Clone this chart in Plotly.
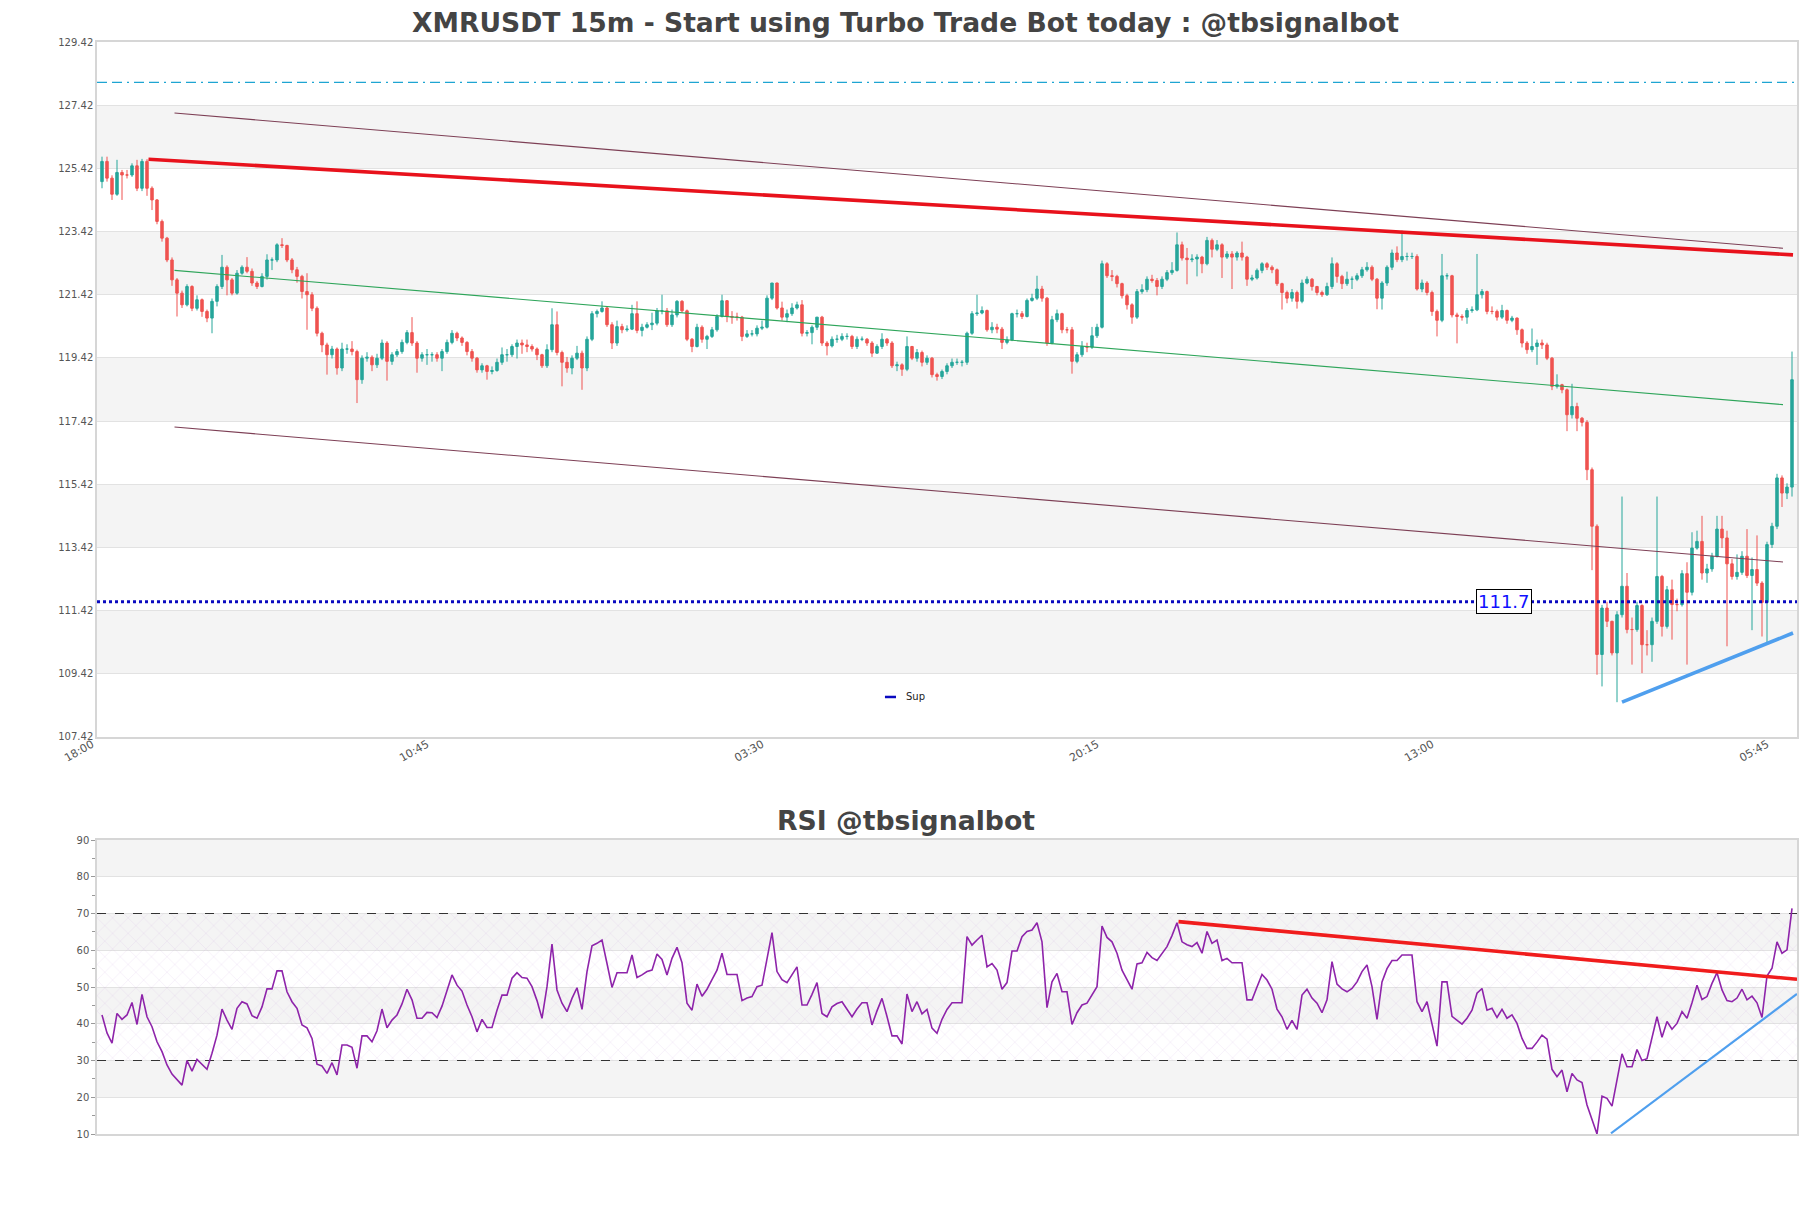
import plotly.graph_objects as go

# ---------------- data ----------------
tick_idx = [0, 67, 134, 201, 268, 335]
tick_txt = ["18:00", "10:45", "03:30", "20:15", "13:00", "05:45"]

first_open = 125.00
closes = [
125.64,125.11,124.60,125.29,125.21,125.21,125.50,124.79,125.64,124.79,
124.42,123.74,123.21,122.52,121.89,121.47,121.10,121.68,120.99,121.26,
120.89,120.68,121.21,121.68,122.29,121.89,121.47,122.10,122.29,122.16,
121.79,121.68,122.00,122.52,122.52,123.00,122.98,122.52,122.21,122.00,
121.52,121.42,120.99,120.20,119.83,119.52,119.70,119.10,119.70,119.70,
119.62,118.73,119.41,119.44,119.20,119.41,119.89,119.31,119.52,119.62,
119.91,120.22,119.89,119.41,119.52,119.52,119.52,119.41,119.62,119.91,
120.20,120.05,119.91,119.62,119.41,119.04,119.17,118.99,119.02,119.28,
119.52,119.52,119.78,119.89,119.83,119.78,119.70,119.52,119.17,119.68,
120.47,119.59,119.28,119.10,119.41,119.57,119.10,120.01,120.82,120.89,
121.00,120.47,119.89,120.41,120.31,120.33,120.82,120.29,120.39,120.47,
120.52,120.91,120.91,120.47,120.78,121.21,120.91,120.01,119.78,120.39,
120.01,120.10,120.31,120.73,121.23,120.73,120.71,120.71,120.10,120.18,
120.18,120.36,120.39,121.31,121.79,121.00,120.71,120.82,121.00,121.10,
120.20,120.22,120.39,120.71,119.89,119.80,120.01,120.01,120.10,120.10,
119.78,120.01,120.01,119.89,119.57,119.78,120.01,119.89,119.17,119.20,
119.06,119.78,119.41,119.59,119.28,119.41,118.89,118.83,118.99,119.17,
119.28,119.28,119.28,120.20,120.82,120.84,120.92,120.31,120.39,120.33,
119.91,119.99,120.82,120.82,120.73,121.24,121.31,121.60,121.31,119.89,
120.63,120.82,120.31,120.31,119.31,119.52,119.78,119.76,120.12,120.39,
122.40,122.02,122.00,121.77,121.39,121.10,120.71,121.52,121.58,121.91,
121.87,121.68,121.91,122.12,122.19,123.00,122.58,122.53,122.55,122.61,
122.40,123.14,122.86,123.00,122.61,122.71,122.61,122.74,122.61,121.91,
121.95,122.19,122.40,122.29,122.21,121.77,121.49,121.31,121.49,121.21,
121.79,121.91,121.68,121.49,121.42,121.68,122.40,122.00,121.77,121.91,
121.91,122.02,122.21,122.29,121.91,121.31,121.79,122.29,122.74,122.53,
122.63,122.63,122.63,121.60,121.79,121.49,120.89,120.61,122.02,122.02,
120.78,120.73,120.71,120.92,120.94,121.42,121.52,120.89,120.89,120.71,
120.92,120.61,120.68,120.31,119.89,119.68,119.78,119.89,119.83,119.41,
118.52,118.57,118.41,117.62,117.88,117.51,117.38,115.88,114.09,110.03,
111.50,111.08,110.08,111.29,112.19,110.82,110.82,111.58,110.34,110.34,
111.08,112.50,110.92,112.08,111.61,111.61,112.59,112.00,113.40,113.61,
112.61,112.74,113.14,114.00,113.72,112.90,112.50,112.63,113.14,112.53,
112.72,112.29,111.68,113.51,114.09,115.62,115.14,115.33,118.73]

highs = [
125.79,125.79,125.20,125.69,125.37,125.37,125.58,125.69,125.72,125.71,
124.85,124.45,123.80,123.25,122.60,121.95,121.55,121.75,121.72,121.40,
121.30,120.95,121.30,121.75,122.68,122.35,121.95,122.20,122.35,122.61,
122.25,121.85,122.10,122.70,122.60,123.05,123.21,123.00,122.58,122.30,
122.05,122.10,121.50,121.05,120.25,119.90,119.80,119.75,119.90,119.85,
119.95,119.68,119.50,119.60,119.50,119.55,120.00,119.95,119.60,119.70,
120.00,120.30,120.71,119.95,119.60,119.70,119.60,119.60,119.70,120.00,
120.30,120.25,120.10,119.95,119.70,119.45,119.25,119.20,119.15,119.40,
119.75,119.70,119.85,120.00,120.00,120.00,119.85,119.75,119.55,119.85,
120.99,120.89,119.65,119.45,119.50,119.80,119.65,120.10,120.90,120.95,
121.21,121.05,120.55,120.60,120.50,120.45,121.10,121.21,120.50,120.55,
120.85,121.00,121.42,121.00,120.95,121.25,121.25,120.95,120.05,120.50,
120.45,120.15,120.40,120.80,121.42,121.25,120.90,120.85,120.75,120.30,
120.30,120.45,120.60,121.40,121.79,121.80,121.20,120.95,121.15,121.20,
121.25,120.30,120.45,120.71,120.75,119.95,120.10,120.15,120.20,120.20,
120.15,120.10,120.10,120.05,119.95,119.85,120.20,120.05,119.95,119.30,
119.25,120.10,119.80,119.70,119.65,119.50,119.45,118.95,119.05,119.25,
119.40,119.40,119.35,120.25,120.90,121.42,121.05,120.95,120.55,120.50,
120.40,120.10,120.85,120.95,120.90,121.30,121.45,122.02,121.70,121.35,
120.75,120.95,120.85,120.40,120.40,119.60,119.95,119.90,120.40,120.50,
122.50,122.45,122.20,122.05,121.80,121.45,121.15,121.60,121.75,122.00,
122.05,121.95,122.00,122.20,122.45,123.39,123.10,122.90,122.70,122.70,
122.65,123.25,123.20,123.15,123.05,122.80,122.80,122.80,123.10,122.65,
122.05,122.25,122.45,122.45,122.35,122.25,121.80,121.55,121.60,121.55,
121.90,122.00,121.95,121.70,121.55,121.80,122.60,122.45,122.05,122.15,
122.00,122.10,122.30,122.45,122.35,121.95,121.85,122.35,122.85,122.95,
123.45,122.75,122.75,122.70,121.90,121.85,121.55,120.95,122.71,122.10,
122.05,120.85,120.80,121.00,121.05,122.71,121.60,121.55,121.05,120.95,
121.10,120.95,120.75,120.70,120.35,119.95,120.35,120.00,120.00,119.90,
119.45,118.90,118.60,118.45,118.60,118.00,117.55,117.45,115.95,114.15,
111.60,111.70,111.10,111.40,115.03,112.61,111.20,111.70,111.62,110.80,
111.20,115.03,112.55,112.20,112.40,111.80,112.70,112.95,113.90,113.95,
114.42,112.90,113.25,114.42,114.42,113.95,113.05,113.20,113.30,114.00,
113.10,113.80,112.35,113.60,114.20,115.75,115.70,115.45,119.62]

lows = [
124.79,125.00,124.42,124.55,124.42,125.10,125.15,124.70,124.70,124.55,
124.10,123.65,123.10,122.45,121.70,120.73,121.00,121.05,120.90,120.92,
120.72,120.55,120.20,121.05,121.60,121.40,121.40,121.42,122.05,122.10,
121.70,121.60,121.65,121.90,122.20,122.45,122.90,122.45,122.10,121.80,
121.30,120.31,120.90,120.10,119.60,118.89,119.40,118.89,119.00,119.55,
119.50,117.99,118.60,119.30,119.00,119.10,119.35,118.70,119.20,119.45,
119.55,119.85,119.80,118.95,119.30,119.20,119.30,119.30,119.00,119.55,
119.85,119.95,119.80,119.50,119.30,118.95,118.95,118.73,118.90,118.98,
119.20,119.30,119.45,119.40,119.55,119.60,119.62,119.35,119.10,119.10,
119.60,119.50,118.52,118.95,118.90,119.35,118.41,119.00,119.95,120.70,
120.85,120.40,119.70,119.80,120.20,120.25,120.30,120.20,120.10,120.35,
120.30,120.45,120.80,120.40,120.40,120.70,120.85,119.95,119.60,119.75,
119.90,119.70,120.05,120.25,120.70,120.55,120.50,120.60,119.95,120.05,
120.10,120.10,120.30,120.35,121.25,120.95,120.60,120.55,120.75,120.95,
120.10,120.10,119.85,120.30,119.80,119.50,119.75,119.90,119.95,120.00,
119.70,119.70,119.95,119.80,119.45,119.55,119.70,119.80,119.10,119.00,
118.85,119.00,119.35,119.30,119.15,119.20,118.80,118.70,118.75,118.90,
119.10,119.20,119.15,119.20,120.15,120.75,120.80,120.25,120.20,120.20,
119.70,119.85,119.95,120.70,120.65,120.70,121.20,121.25,121.20,119.80,
119.85,120.55,120.20,120.20,118.92,119.25,119.45,119.60,119.70,120.05,
120.35,121.95,121.85,121.65,121.30,120.95,120.50,120.65,121.45,121.50,
121.80,121.40,121.60,121.85,122.05,122.15,122.50,121.75,122.45,122.00,
122.10,122.35,122.60,122.80,121.95,122.55,121.60,122.50,122.50,121.70,
121.85,121.90,122.10,122.20,122.10,121.70,120.95,121.15,121.20,120.98,
121.15,121.75,121.55,121.40,121.35,121.38,121.60,121.80,121.60,121.70,
121.60,121.85,121.95,122.15,121.85,120.96,120.95,121.70,122.20,122.45,
122.45,122.50,122.55,121.55,121.50,121.40,120.75,120.10,120.55,121.90,
120.70,119.88,120.60,120.50,120.85,120.90,121.30,120.80,120.80,120.60,
120.65,120.50,120.55,120.15,119.75,119.55,119.60,119.20,119.70,119.35,
118.40,118.45,118.30,117.10,117.50,117.10,117.25,115.55,112.70,109.39,
109.02,110.90,110.00,108.52,111.20,110.70,109.71,110.75,109.44,110.00,
109.80,111.00,110.60,110.85,110.50,111.40,111.55,109.71,111.90,113.35,
112.40,112.30,112.65,113.10,113.40,110.29,112.40,112.40,112.55,112.45,
110.80,112.20,110.60,110.39,113.40,114.00,114.70,114.95,115.03]

rsi = [
42.4,37.5,34.7,42.8,41.2,42.4,45.8,39.8,48.0,41.9,
39.2,35.1,32.4,28.8,26.3,24.7,23.3,30.0,27.1,30.3,
28.8,27.6,32.0,36.9,44.0,41.0,38.5,44.2,46.0,45.4,
42.2,41.5,44.6,49.5,49.5,54.4,54.4,48.7,46.0,44.2,
39.7,38.9,36.0,29.0,28.5,26.5,29.4,26.1,34.2,34.2,
33.6,27.9,36.7,36.7,35.1,38.1,44.0,38.9,41.0,42.4,
45.4,49.4,46.5,41.5,41.5,43.1,43.0,41.7,44.8,49.2,
53.3,50.5,48.9,45.1,41.9,37.8,41.2,39.0,39.0,43.7,
47.8,47.8,52.4,53.9,52.6,52.4,50.1,46.3,41.5,50.1,
61.7,49.2,45.6,43.3,46.9,49.8,43.9,54.2,61.2,61.9,
62.8,56.4,49.9,53.9,53.9,53.9,58.7,52.6,53.3,54.2,
54.6,59.0,57.5,53.3,57.8,60.8,56.6,45.6,43.7,50.8,
47.5,49.4,52.0,54.6,59.2,53.4,53.4,53.4,46.3,47.0,
47.4,50.1,50.5,58.0,64.8,54.2,52.0,51.2,53.5,55.5,
45.1,45.1,48.0,51.2,42.8,41.9,44.6,45.5,46.0,44.0,
41.9,44.0,45.7,45.7,39.7,43.5,46.9,42.0,36.7,36.7,
34.5,48.1,43.3,46.0,42.7,43.9,38.8,37.4,41.2,43.9,
45.7,45.7,45.7,63.7,61.4,62.8,64.1,55.5,56.4,54.6,
49.4,51.2,59.8,59.8,63.7,65.1,65.5,67.5,62.3,44.4,
51.4,53.7,48.7,48.7,39.8,43.0,45.1,45.6,48.0,50.1,
66.6,63.5,62.3,59.2,54.6,52.0,49.4,56.3,56.6,59.4,
58.0,57.2,59.2,61.0,64.0,67.5,62.3,61.5,61.0,62.1,
59.2,65.1,61.9,62.8,57.2,57.8,56.6,56.6,56.6,46.5,
46.5,50.0,53.4,51.9,49.4,44.0,41.9,38.5,40.9,38.5,
47.8,49.4,47.0,45.6,43.0,46.5,56.9,50.8,49.5,48.7,
49.6,51.4,54.2,56.0,50.1,41.2,51.4,55.0,57.2,57.2,
58.7,58.7,58.7,46.0,43.3,46.0,39.7,33.9,51.4,51.4,
42.0,40.9,39.9,41.5,43.7,48.3,49.6,43.7,44.2,41.7,
43.9,41.5,42.4,40.1,36.0,33.3,33.3,35.0,36.9,35.8,
27.6,25.6,27.4,21.5,26.5,24.7,24.0,17.9,14.0,10.0,
20.3,19.7,17.6,24.5,31.8,28.3,28.3,33.0,30.0,30.5,
36.0,41.9,36.3,40.6,38.5,40.1,43.3,41.5,45.7,50.5,
46.6,47.4,51.0,53.9,49.2,46.3,46.0,47.0,49.4,46.5,
47.5,45.7,41.7,53.0,55.1,62.3,59.2,60.1,71.4]

# trend lines / levels
res_x, res_y = [9.3, 338.2], [125.71, 122.68]
chan_x = [14.5, 336.2]
chan_up_y = [127.17, 122.89]
chan_mid_y = [122.19, 117.94]
chan_lo_y = [117.23, 112.96]
sup_tl_x, sup_tl_y = [304.0, 338.2], [108.52, 110.71]
cyan_level = 128.14
sup_level = 111.7
rsi_res_x, rsi_res_y = [215.3, 339.0], [67.8, 52.1]
rsi_sup_x, rsi_sup_y = [301.8, 339.0], [10.2, 48.1]

price_ticks = [107.42 + 2 * k for k in range(12)]
rsi_ticks = [10, 20, 30, 40, 50, 60, 70, 80, 90]

# ---------------- figure ----------------
n = len(closes)
idx = list(range(n))
opens = [first_open] + closes[:-1]
XR = [-1, 339]
FONT = "DejaVu Sans"

fig = go.Figure()

fig.add_trace(go.Candlestick(
    x=idx, open=opens, high=highs, low=lows, close=closes,
    increasing=dict(line=dict(color="#26a69a", width=1), fillcolor="#26a69a"),
    decreasing=dict(line=dict(color="#ef5350", width=1), fillcolor="#ef5350"),
    whiskerwidth=0, showlegend=False, hoverinfo="skip",
    xaxis="x", yaxis="y"))

def line(x, y, color, width, dash="solid", xa="x", ya="y"):
    fig.add_trace(go.Scatter(x=x, y=y, mode="lines", xaxis=xa, yaxis=ya,
                             line=dict(color=color, width=width, dash=dash),
                             showlegend=False, hoverinfo="skip"))

line(XR, [cyan_level, cyan_level], "#1ea5d2", 1.3, "10px,5px,10px,5px,2px,5px")
line(chan_x, chan_up_y, "#7d3f55", 1.1)
line(chan_x, chan_lo_y, "#7d3f55", 1.1)
line(chan_x, chan_mid_y, "#2ea55a", 1.1)
line(res_x, res_y, "#e8121c", 3.6)
line(XR, [sup_level, sup_level], "#0a0ac0", 2.8, "dot")
line(sup_tl_x, sup_tl_y, "#4f9fee", 3.6)

# RSI hatch zone
fig.add_trace(go.Scatter(
    x=[XR[0], XR[1], XR[1], XR[0], XR[0]], y=[30, 30, 70, 70, 30],
    mode="lines", fill="toself", line=dict(width=0, color="rgba(0,0,0,0)"),
    fillcolor="rgba(0,0,0,0)",
    fillpattern=dict(shape="x", fgcolor="rgba(190,140,210,0.55)",
                     bgcolor="rgba(0,0,0,0)", size=11, solidity=0.08,
                     fillmode="overlay"),
    xaxis="x2", yaxis="y2", showlegend=False, hoverinfo="skip"))

line(XR, [70, 70], "#333333", 1.2, "dash", "x2", "y2")
line(XR, [30, 30], "#333333", 1.2, "dash", "x2", "y2")
line(idx, rsi, "#8e24aa", 1.6, "solid", "x2", "y2")
line(rsi_res_x, rsi_res_y, "#f01c1c", 3.6, "solid", "x2", "y2")
line(rsi_sup_x, rsi_sup_y, "#4f9fee", 2.2, "solid", "x2", "y2")

shapes = []
for k in range(5):
    lo = 109.42 + 4 * k
    shapes.append(dict(type="rect", xref="x domain", yref="y", x0=0, x1=1,
                       y0=lo, y1=lo + 2, fillcolor="#f4f4f4",
                       line=dict(width=0), layer="below"))
for lo in [20, 40, 60, 80]:
    shapes.append(dict(type="rect", xref="x2 domain", yref="y2", x0=0, x1=1,
                       y0=lo, y1=lo + 10, fillcolor="#f4f4f4",
                       line=dict(width=0), layer="below"))
# legend sample for "Sup"
shapes.append(dict(type="line", xref="paper", yref="paper",
                   x0=0.4635, x1=0.4700, y0=0.4002, y1=0.4002,
                   line=dict(color="#0a0ac0", width=2.5)))

annotations = [
    dict(x=280.4, y=sup_level, xref="x", yref="y", text="111.7",
         showarrow=False, font=dict(family=FONT, size=18, color="#1010ff"),
         bgcolor="white", bordercolor="black", borderwidth=1, borderpad=1),
    dict(x=0.4747, y=0.4002, xref="paper", yref="paper", text="Sup",
         showarrow=False, xanchor="left", yanchor="middle",
         font=dict(family=FONT, size=10, color="#222")),
    dict(x=0.4756, y=0.2875, xref="paper", yref="paper",
         text="<b>RSI @tbsignalbot</b>", showarrow=False,
         xanchor="center", yanchor="middle",
         font=dict(family=FONT, size=26.7, color="#444")),
]

axis_common = dict(showline=True, linecolor="#d6d6d6", linewidth=1.5,
                   mirror=True, zeroline=False)

fig.update_layout(
    width=1811, height=1208,
    margin=dict(l=97, r=14, t=42, b=74),
    paper_bgcolor="white", plot_bgcolor="white",
    title=dict(text="<b>XMRUSDT 15m - Start using Turbo Trade Bot today : @tbsignalbot</b>",
               x=0.5, xref="container", y=1 - 23 / 1208, yref="container",
               xanchor="center", yanchor="middle",
               font=dict(family=FONT, size=26.6, color="#444")),
    showlegend=False,
    shapes=shapes, annotations=annotations,
    xaxis=dict(domain=[0, 1], range=XR, anchor="y",
               tickmode="array", tickvals=tick_idx, ticktext=tick_txt,
               tickangle=-30, ticklabelshift=-10, ticklabelstandoff=-5,
               tickfont=dict(family=FONT, size=11, color="#555"),
               showgrid=False, rangeslider=dict(visible=False), **axis_common),
    yaxis=dict(domain=[0.3636, 1], range=[107.42, 129.42], anchor="x",
               tickmode="array", tickvals=price_ticks,
               ticktext=["%.2f" % v for v in price_ticks],
               tickfont=dict(family=FONT, size=10, color="#555"),
               showgrid=True, gridcolor="#e2e2e2", gridwidth=1.2, **axis_common),
    xaxis2=dict(domain=[0, 1], range=XR, anchor="y2", showticklabels=False,
                showgrid=False, **axis_common),
    yaxis2=dict(domain=[0, 0.2692], range=[10, 90], anchor="x2",
                tickmode="array", tickvals=rsi_ticks,
                tickfont=dict(family=FONT, size=10, color="#555"),
                ticks="outside", ticklen=4, tickcolor="#999",
                minor=dict(tickmode="array", tickvals=[15, 25, 35, 45, 55, 65, 75, 85],
                           ticks="outside", ticklen=3, tickcolor="#999"),
                showgrid=True, gridcolor="#e2e2e2", gridwidth=1.2, **axis_common),
)

fig.write_html("out.html")
